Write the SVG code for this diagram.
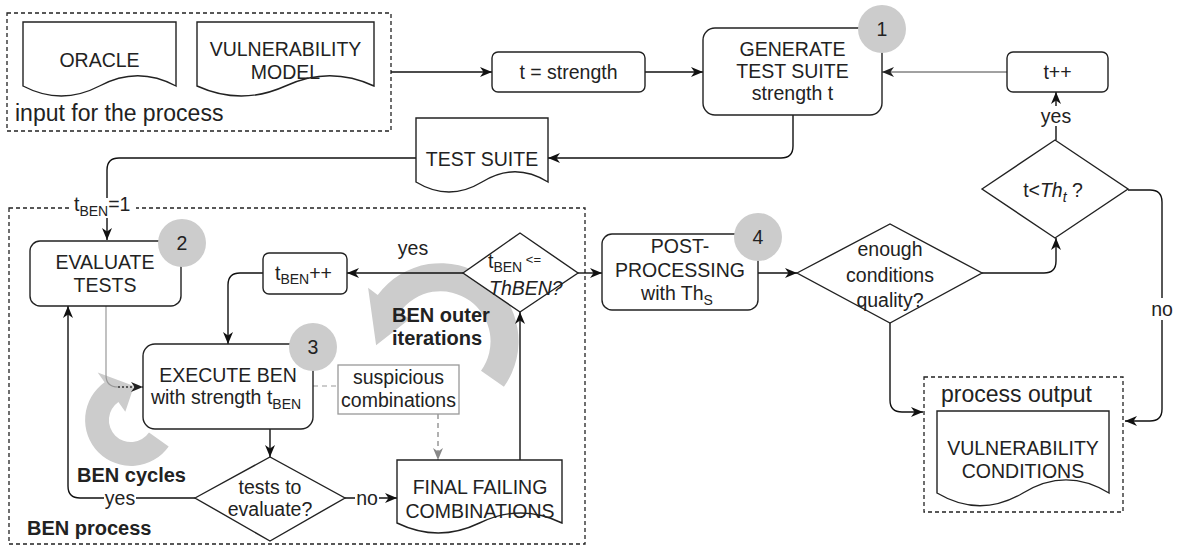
<svg xmlns="http://www.w3.org/2000/svg" width="1178" height="546" viewBox="0 0 1178 546">
  <defs>
    <marker id="arr" viewBox="0 0 12 10" refX="12" refY="5" markerWidth="12" markerHeight="10" markerUnits="userSpaceOnUse" orient="auto">
      <path d="M0,0 L12,5 L0,10 L3.5,5 Z" fill="#111"/>
    </marker>
    <marker id="arrGray" viewBox="0 0 12 10" refX="12" refY="5" markerWidth="12" markerHeight="10" markerUnits="userSpaceOnUse" orient="auto">
      <path d="M0,0 L12,5 L0,10 L3.5,5 Z" fill="#888"/>
    </marker>
    <marker id="arrDark" viewBox="0 0 12 10" refX="12" refY="5" markerWidth="12" markerHeight="10" markerUnits="userSpaceOnUse" orient="auto">
      <path d="M0,0 L12,5 L0,10 L3.5,5 Z" fill="#222"/>
    </marker>
    <style>
      text { font-family: "Liberation Sans", Arial, sans-serif; font-size: 19.5px; fill: #222; }
      .c { text-anchor: middle; }
      .big { font-size: 23px; }
      .b { font-weight: bold; font-size: 20px; }
      .sub { font-size: 14px; }
      .shape { fill: #fff; stroke: #222; stroke-width: 1.4; }
      .frame { fill: none; stroke: #222; stroke-width: 1.3; stroke-dasharray: 4 3; }
      .badge { fill: #cccccc; }
      .swirl { fill: #cccccc; }
      .edge { fill: none; stroke: #111; stroke-width: 1.4; marker-end: url(#arr); }
      .lbl { fill: #fff; }
    </style>
  </defs>

  <rect width="1178" height="546" fill="#fff"/>

  <!-- containers -->
  <g id="input-frame">
    <rect class="frame" x="7" y="13" width="384" height="118"/>
    <text class="big" x="15" y="121">input for the process</text>
  </g>
  <g id="ben-frame">
    <rect class="frame" x="9" y="208" width="576" height="336"/>
    <text class="b" x="27" y="535">BEN process</text>
  </g>
  <g id="output-frame">
    <rect class="frame" x="924" y="377" width="199" height="135"/>
    <text class="big" x="941" y="402">process output</text>
  </g>

  <!-- loop indicators -->
  <g id="ben-cycles">
    <path class="swirl" d="M168.7 446.4 A46 46 0 1 1 104.6 382.3 L97.7 372.5 L134 386.1 L125.3 411.8 L118.4 402 A22 22 0 1 0 149 432.6 Z"/>
    <text class="b" x="77" y="482">BEN cycles</text>
  </g>
  <g id="ben-outer">
    <path class="swirl" d="M503.9 386.7 A78 78 0 0 0 377.7 295 L368.1 287.8 L376.1 345.3 L409.7 319.1 L400 311.9 A50 50 0 0 1 481 370.7 Z"/>
    <text class="b" x="392" y="322">BEN outer</text>
    <text class="b" x="392" y="345">iterations</text>
  </g>

  <!-- connectors -->
  <g id="connectors">
    <path class="edge" d="M391 72 H492"/>
    <path class="edge" d="M645 72 H703"/>
    <path d="M1007 72 H882" fill="none" stroke="#444" stroke-width="1" marker-end="url(#arrDark)"/>
    <path class="edge" d="M793 115 V146 Q793 158 781 158 H548"/>
    <path class="edge" d="M416 158 H119 Q107 158 107 170 V240"/>
    <path class="edge" d="M1056 140 V92"/>
    <path class="edge" d="M1128 190 H1150 Q1162 190 1162 202 V409 Q1162 421 1150 421 H1125"/>
    <path class="edge" d="M982 273 H1044 Q1056 273 1056 261 V238"/>
    <path class="edge" d="M890 323 V400 Q890 412 902 412 H923"/>
    <path class="edge" d="M758 273 H797"/>
    <path class="edge" d="M578 273 H602"/>
    <path class="edge" d="M463 273 H347"/>
    <path class="edge" d="M263 273 H240 Q228 273 228 285 V344"/>
    <path class="edge" d="M270 429 V457"/>
    <path class="edge" d="M345 498 H397"/>
    <path class="edge" d="M195 498 H80 Q68 498 68 486 V306"/>
    <path class="edge" d="M520 460 V312"/>
    <path d="M106 306 V375 Q106 387 118 387" fill="none" stroke="#999" stroke-width="1.2"/>
    <path d="M118 387 H143" fill="none" stroke="#333" stroke-width="1.3" stroke-dasharray="2 2" marker-end="url(#arrDark)"/>
    <path d="M313 386 H338" fill="none" stroke="#999" stroke-width="1.2" stroke-dasharray="5 4"/>
    <path d="M438 414 V460" fill="none" stroke="#888" stroke-width="1.3" stroke-dasharray="5 4" marker-end="url(#arrGray)"/>

    <!-- edge labels -->
    <rect class="lbl" x="72" y="198" width="64" height="20"/>
    <text x="74" y="211">t<tspan class="sub" dy="5">BEN</tspan><tspan dy="-5">=1</tspan></text>
    <rect class="lbl" x="1041" y="106" width="30" height="20"/>
    <text class="c" x="1056" y="123">yes</text>
    <rect class="lbl" x="1150" y="298" width="24" height="22"/>
    <text class="c" x="1162" y="316">no</text>
    <text class="c" x="413" y="255">yes</text>
    <rect class="lbl" x="355" y="488" width="24" height="20"/>
    <text class="c" x="367" y="505">no</text>
    <rect class="lbl" x="104" y="488" width="32" height="20"/>
    <text class="c" x="120" y="505">yes</text>
  </g>

  <!-- nodes -->
  <g id="oracle">
    <path class="shape" d="M23 22 H176 V86 Q137.8 65.5 99.5 86 Q61.3 106 23 86 Z"/>
    <text class="c" x="99.5" y="67">ORACLE</text>
  </g>
  <g id="vulnerability-model">
    <path class="shape" d="M197 22 H374 V86 Q329.8 65.5 285.5 86 Q241.3 106 197 86 Z"/>
    <text class="c" x="285.5" y="56">VULNERABILITY</text>
    <text class="c" x="285.5" y="79">MODEL</text>
  </g>
  <g id="t-strength">
    <rect class="shape" x="492" y="52" width="153" height="40" rx="6"/>
    <text class="c" x="568.5" y="79">t = strength</text>
  </g>
  <g id="generate">
    <rect class="shape" x="703" y="28" width="179" height="87" rx="12"/>
    <text class="c" x="792.5" y="56">GENERATE</text>
    <text class="c" x="792.5" y="78">TEST SUITE</text>
    <text class="c" x="792.5" y="100">strength t</text>
    <circle class="badge" cx="882" cy="29" r="24"/>
    <text class="c" x="882" y="36">1</text>
  </g>
  <g id="t-inc">
    <rect class="shape" x="1007" y="52" width="101" height="40" rx="6"/>
    <text class="c" x="1057.5" y="79">t++</text>
  </g>
  <g id="t-check">
    <polygon class="shape" points="982,189 1055,140 1128,189 1055,238"/>
    <text class="c" x="1053" y="197">t&lt;<tspan font-style="italic">Th</tspan><tspan class="sub" font-style="italic" dy="5">t</tspan><tspan dy="-5"> ?</tspan></text>
  </g>
  <g id="test-suite">
    <path class="shape" d="M416 118 H548 V182 Q515 161.5 482 182 Q449 202 416 182 Z"/>
    <text class="c" x="482" y="166">TEST SUITE</text>
  </g>
  <g id="evaluate-tests">
    <rect class="shape" x="30" y="241" width="151" height="65" rx="10"/>
    <text class="c" x="105" y="269">EVALUATE</text>
    <text class="c" x="105" y="292">TESTS</text>
    <circle class="badge" cx="182" cy="243" r="24"/>
    <text class="c" x="182" y="250">2</text>
  </g>
  <g id="tben-inc">
    <rect class="shape" x="263" y="253" width="84" height="41" rx="6"/>
    <text x="275" y="280">t<tspan class="sub" dy="4">BEN</tspan><tspan dy="-4">++</tspan></text>
  </g>
  <g id="tben-check">
    <polygon class="shape" points="463,273 520,233 578,273 520,312"/>
    <text x="488" y="268" font-size="16">t<tspan class="sub" font-size="13" dy="4">BEN</tspan><tspan font-size="13" dy="-8"> &lt;=</tspan></text>
    <text x="489" y="295" font-size="16" font-style="italic">ThBEN?</text>
  </g>
  <g id="execute-ben">
    <rect class="shape" x="143" y="344" width="170" height="85" rx="12"/>
    <text class="c" x="228" y="382">EXECUTE BEN</text>
    <text class="c" x="226" y="404">with strength t<tspan class="sub" dy="5">BEN</tspan></text>
    <circle class="badge" cx="313" cy="347" r="24"/>
    <text class="c" x="313" y="354">3</text>
  </g>
  <g id="suspicious">
    <rect x="338" y="365" width="121" height="49" fill="#fff" stroke="#999" stroke-width="1.3"/>
    <text class="c" x="398.5" y="384">suspicious</text>
    <text class="c" x="398.5" y="407">combinations</text>
  </g>
  <g id="tests-check">
    <polygon class="shape" points="195,498 270,457 345,498 270,541"/>
    <text class="c" x="270" y="494">tests to</text>
    <text class="c" x="270" y="516">evaluate?</text>
  </g>
  <g id="final-failing">
    <path class="shape" d="M397 460 H562 V523 Q520.8 502.9 479.5 523 Q438.3 542.9 397 523 Z"/>
    <text class="c" x="480" y="494">FINAL FAILING</text>
    <text class="c" x="480" y="518">COMBINATIONS</text>
  </g>
  <g id="post-processing">
    <rect class="shape" x="602" y="234" width="156" height="76" rx="10"/>
    <text class="c" x="680" y="253">POST-</text>
    <text class="c" x="680" y="277">PROCESSING</text>
    <text class="c" x="677" y="300">with Th<tspan class="sub" dy="5">S</tspan></text>
    <circle class="badge" cx="758" cy="237" r="24"/>
    <text class="c" x="758" y="244">4</text>
  </g>
  <g id="quality-check">
    <polygon class="shape" points="797,273 890,224 982,273 890,323"/>
    <text class="c" x="890" y="256">enough</text>
    <text class="c" x="890" y="282">conditions</text>
    <text class="c" x="890" y="307">quality?</text>
  </g>
  <g id="vulnerability-conditions">
    <path class="shape" d="M937 411 H1109 V493 Q1066 466.7 1023 493 Q980 518.5 937 493 Z"/>
    <text class="c" x="1023" y="455">VULNERABILITY</text>
    <text class="c" x="1023" y="478">CONDITIONS</text>
  </g>
</svg>
